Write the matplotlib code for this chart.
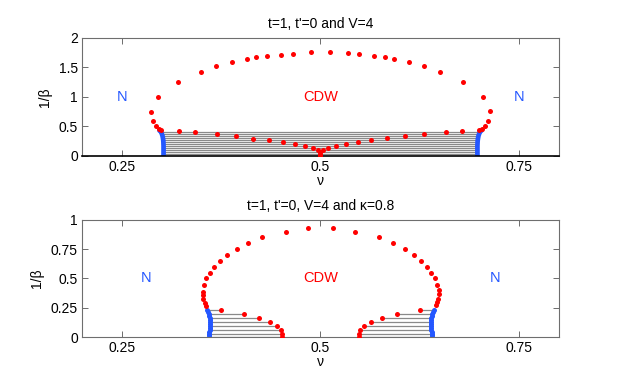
import matplotlib
matplotlib.use("Agg")
import matplotlib.pyplot as plt

plt.rcParams['font.family'] = ['Liberation Sans', 'DejaVu Sans']
plt.rcParams['font.size'] = 10

RED = '#ff0000'
BLUE = '#2457ff'
TIE = '#8a8a8a'
MS = 3.6

# ---- top panel: t=1, t'=0, V=4 ----
top_dome_nu = [0.300, 0.297, 0.2935, 0.289, 0.287, 0.296, 0.3205, 0.350, 0.369, 0.389,
               0.4076, 0.4188, 0.4325, 0.450, 0.465, 0.4884, 0.512, 0.535, 0.549, 0.567,
               0.5817, 0.593, 0.611, 0.630, 0.650, 0.679, 0.704, 0.7127, 0.711, 0.707,
               0.703, 0.700]
top_dome_T = [0.44, 0.46, 0.50, 0.60, 0.75, 1.00, 1.25, 1.43, 1.52, 1.59,
              1.64, 1.67, 1.70, 1.72, 1.73, 1.76, 1.76, 1.74, 1.73, 1.69,
              1.67, 1.64, 1.59, 1.52, 1.43, 1.25, 1.00, 0.76, 0.60, 0.51,
              0.46, 0.44]
top_low_nu = [0.3226, 0.342, 0.370, 0.394, 0.415, 0.435, 0.453, 0.4685, 0.481, 0.4905,
              0.4966, 0.500, 0.500, 0.500, 0.5034, 0.509, 0.519, 0.532, 0.547, 0.564,
              0.584, 0.606, 0.630, 0.658, 0.678]
top_low_T = [0.42, 0.40, 0.365, 0.333, 0.295, 0.265, 0.232, 0.198, 0.167, 0.13,
             0.097, 0.065, 0.035, 0.0, 0.097, 0.13, 0.167, 0.198, 0.232, 0.265,
             0.30, 0.333, 0.365, 0.40, 0.42]
top_blue_T = [0.43, 0.41, 0.373, 0.34, 0.305, 0.27, 0.237, 0.203, 0.17, 0.136,
              0.10, 0.068, 0.034, 0.0]
top_blue_left = [0.2975, 0.2995, 0.3005, 0.3013, 0.3018, 0.3022, 0.3024, 0.3025, 0.3026,
                 0.3026, 0.3026, 0.3026, 0.3026, 0.3026]
top_blue_right = [0.7025, 0.7005, 0.6995, 0.6987, 0.6982, 0.6978, 0.6976, 0.6975, 0.6974,
                  0.6974, 0.6974, 0.6974, 0.6974, 0.6974]

# ---- bottom panel: t=1, t'=0, V=4, kappa=0.8 ----
bot_dome_nu = [0.3557, 0.3545, 0.3524, 0.3516, 0.3524, 0.3536, 0.3566, 0.361, 0.3666,
               0.3735, 0.3827, 0.3947, 0.4088, 0.4266, 0.456, 0.484, 0.516, 0.5435,
               0.5734, 0.5917, 0.606, 0.617, 0.627, 0.6335, 0.6385, 0.644, 0.647,
               0.6485, 0.6485, 0.6477, 0.647, 0.6455]
bot_dome_T = [0.262, 0.29, 0.328, 0.356, 0.385, 0.448, 0.50, 0.547, 0.60,
              0.65, 0.70, 0.75, 0.80, 0.852, 0.90, 0.93, 0.93, 0.90,
              0.855, 0.80, 0.75, 0.70, 0.65, 0.60, 0.547, 0.50, 0.448,
              0.405, 0.365, 0.328, 0.30, 0.27]
bot_low_T = [0.234, 0.2, 0.166, 0.132, 0.097, 0.063, 0.029, 0.0]
bot_low_left = [0.3748, 0.404, 0.423, 0.4366, 0.445, 0.4499, 0.451, 0.4515]
bot_low_right = [0.6252, 0.596, 0.5775, 0.5638, 0.5543, 0.5494, 0.549, 0.549]
bot_tie_left = [0.357, 0.3595, 0.3605, 0.361, 0.361, 0.3605, 0.360, 0.3595]
bot_tie_right = [0.643, 0.6405, 0.6395, 0.639, 0.639, 0.6395, 0.640, 0.6405]
bot_blue_T = [0.234, 0.217, 0.200, 0.183, 0.166, 0.149, 0.132, 0.115, 0.097, 0.080,
              0.063, 0.046, 0.029, 0.014, 0.0]
bot_blue_left = [0.357, 0.3585, 0.3595, 0.3601, 0.3605, 0.3608, 0.361, 0.361, 0.361,
                 0.361, 0.3605, 0.3602, 0.360, 0.3597, 0.3595]
bot_blue_right = [0.643, 0.6415, 0.6405, 0.6399, 0.6395, 0.6392, 0.639, 0.639, 0.639,
                  0.639, 0.6395, 0.6398, 0.640, 0.6403, 0.6405]


def style_axes(ax, ylim, yticks, yticklabels):
    ax.set_xlim(0.2, 0.8)
    ax.set_ylim(*ylim)
    ax.set_xticks([0.25, 0.5, 0.75])
    ax.set_xticklabels(['0.25', '0.5', '0.75'])
    ax.set_yticks(yticks)
    ax.set_yticklabels(yticklabels)
    ax.tick_params(direction='in', length=4, width=0.6, color='#555555',
                   top=True, right=True, labelsize=10, pad=3)
    for s in ax.spines.values():
        s.set_color('#6e6e6e')
        s.set_linewidth(0.8)
    ax.set_xlabel('ν', labelpad=0)
    ax.set_ylabel('1/β', labelpad=5)


fig = plt.figure(figsize=(6.22, 3.83), dpi=100)

ax1 = fig.add_axes([0.1318, 0.5927, 0.7669, 0.3081])
ax1.hlines(top_blue_T[1:], top_blue_left[1:], top_blue_right[1:], color=TIE, lw=0.9, zorder=1)
ax1.plot(top_blue_left, top_blue_T, color=BLUE, lw=3.4, solid_capstyle='round', zorder=2)
ax1.plot(top_blue_right, top_blue_T, color=BLUE, lw=3.4, solid_capstyle='round', zorder=2)
ax1.plot(top_dome_nu, top_dome_T, 'o', color=RED, ms=MS, mec='none', zorder=3)
ax1.plot(top_low_nu, top_low_T, 'o', color=RED, ms=MS, mec='none', zorder=3)
ax1.text(0.25, 1.0, 'N', color=BLUE, ha='center', va='center', fontsize=10.5)
ax1.text(0.75, 1.0, 'N', color=BLUE, ha='center', va='center', fontsize=10.5)
ax1.text(0.5, 1.0, 'CDW', color=RED, ha='center', va='center', fontsize=10.5)
style_axes(ax1, (0, 2), [0, 0.5, 1, 1.5, 2], ['0', '0.5', '1', '1.5', '2'])
ax1.spines['bottom'].set_color('black')
ax1.spines['bottom'].set_linewidth(1.2)
ax1.set_title("t=1, t'=0 and V=4", fontsize=10, pad=7)

ax2 = fig.add_axes([0.1318, 0.1201, 0.7669, 0.3055])
ax2.hlines(bot_low_T, bot_tie_left, bot_low_left, color=TIE, lw=0.9, zorder=1)
ax2.hlines(bot_low_T, bot_low_right, bot_tie_right, color=TIE, lw=0.9, zorder=1)
ax2.plot(bot_blue_left, bot_blue_T, 'o', color=BLUE, ms=MS, mec='none', zorder=2)
ax2.plot(bot_blue_right, bot_blue_T, 'o', color=BLUE, ms=MS, mec='none', zorder=2)
ax2.plot(bot_dome_nu, bot_dome_T, 'o', color=RED, ms=MS, mec='none', zorder=3)
ax2.plot(bot_low_left, bot_low_T, 'o', color=RED, ms=MS, mec='none', zorder=3)
ax2.plot(bot_low_right, bot_low_T, 'o', color=RED, ms=MS, mec='none', zorder=3)
ax2.text(0.28, 0.5, 'N', color=BLUE, ha='center', va='center', fontsize=10.5)
ax2.text(0.72, 0.5, 'N', color=BLUE, ha='center', va='center', fontsize=10.5)
ax2.text(0.5, 0.5, 'CDW', color=RED, ha='center', va='center', fontsize=10.5)
style_axes(ax2, (0, 1), [0, 0.25, 0.5, 0.75, 1], ['0', '0.25', '0.5', '0.75', '1'])
ax2.set_title("t=1, t'=0, V=4 and κ=0.8", fontsize=10, pad=7)

fig.savefig('out.png', dpi=100)
